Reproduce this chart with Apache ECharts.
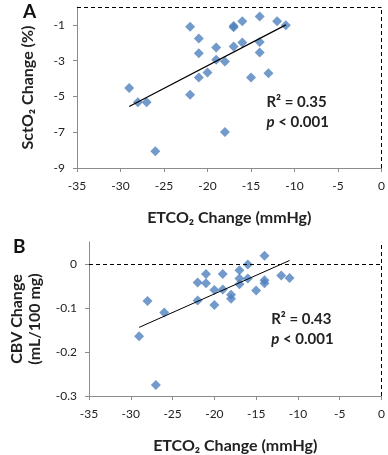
<!DOCTYPE html>
<html>
<head>
<meta charset="utf-8">
<script src="https://cdn.jsdelivr.net/npm/echarts@6/dist/echarts.min.js"></script>
<style>
  html, body { margin: 0; padding: 0; background: #fff; }
  #chart { width: 388px; height: 455px; }
</style>
</head>
<body>
<div id="chart"></div>
<script>
// panel A: ETCO2 change vs SctO2 change
var etco2A = [-29, -28, -27, -26, -22, -22, -21, -21, -21, -20, -19, -19, -18, -18, -17, -17, -17, -16, -16, -15, -14, -14, -14, -13, -12, -11]
var sctO2 = [-4.53, -5.32, -5.32, -8.07, -1.11, -4.91, -1.76, -2.58, -3.94, -3.66, -2.27, -2.95, -3.05, -6.99, -1.06, -1.13, -2.21, -0.80, -1.99, -3.94, -0.53, -1.95, -2.54, -3.70, -0.80, -1.02]
var trendA = [[-29, -5.56], [-11, -1.0]]

// panel B: ETCO2 change vs CBV change
var etco2B = [-29, -28, -27, -26, -22, -22, -21, -21, -20, -20, -19, -19, -18, -18, -17, -17, -17, -16, -16, -15, -14, -14, -14, -12, -11]
var cbv = [-0.164, -0.084, -0.275, -0.110, -0.042, -0.083, -0.023, -0.044, -0.059, -0.093, -0.023, -0.058, -0.070, -0.079, -0.014, -0.033, -0.046, -0.001, -0.033, -0.060, 0.019, -0.037, -0.044, -0.026, -0.032]
var trendB = [[-29, -0.144], [-11, 0.008]]

var xTicks = [-35, -30, -25, -20, -15, -10, -5, 0]
var statsA = ['0.35', '0.001']
var statsB = ['0.43', '0.001']

var font = 'Lato, "Open Sans", sans-serif'
var blue = '#4f81bd'

function zip (xs, ys) {
  return xs.map(function (x, i) { return [x, ys[i]] })
}

function xAxisOf (idx) {
  return {
    gridIndex: idx,
    type: 'value',
    min: xTicks[0],
    max: xTicks[xTicks.length - 1],
    interval: 5,
    axisLine: { show: true, onZero: false, lineStyle: { color: '#8c8c8c', width: 1 } },
    axisTick: { show: true, length: 4, lineStyle: { color: '#8c8c8c' } },
    axisLabel: { color: '#222', fontSize: 12, fontFamily: font, margin: 12 },
    splitLine: { show: false },
    name: 'ETCO₂ Change (mmHg)',
    nameLocation: 'middle',
    nameGap: 42,
    nameTextStyle: { color: '#222', fontSize: 16, fontWeight: 'bold', fontFamily: font }
  }
}

function yAxisOf (idx, min, max, interval, name, gap) {
  return {
    gridIndex: idx,
    type: 'value',
    min: min,
    max: max,
    interval: interval,
    axisLine: { show: true, onZero: false, lineStyle: { color: '#8c8c8c', width: 1 } },
    axisTick: { show: true, length: 4, lineStyle: { color: '#8c8c8c' } },
    axisLabel: { color: '#222', fontSize: 12, fontFamily: font, margin: 12, showMaxLabel: false },
    splitLine: { show: false },
    name: name,
    nameLocation: 'middle',
    nameGap: gap,
    nameTextStyle: { color: '#222', fontSize: 16, fontWeight: 'bold', fontFamily: font, lineHeight: 18 }
  }
}

function refLines () {
  return {
    silent: true,
    symbol: 'none',
    label: { show: false },
    lineStyle: { color: '#000', type: [4, 3], width: 1 },
    data: [{ yAxis: 0 }, { xAxis: 0 }]
  }
}

function statText (stats) {
  return '{b|R² = ' + stats[0] + '}\n{i|p}{b| < ' + stats[1] + '}'
}

var richStats = {
  b: { fontSize: 15, fontWeight: 'bold', fontFamily: font, color: '#222', lineHeight: 20 },
  i: { fontSize: 15, fontWeight: 'bold', fontStyle: 'italic', fontFamily: font, color: '#222', lineHeight: 20 }
}

var myChart = echarts.init(document.getElementById('chart'))
var option = {
  animation: false,
  grid: [
    { left: 77, right: 5, top: 7, height: 161 },
    { left: 77, right: 5, top: 242, height: 164 }
  ],
  xAxis: [xAxisOf(0), xAxisOf(1)],
  yAxis: [
    yAxisOf(0, -9, 0, 2, 'SctO₂ Change (%)', 40),
    yAxisOf(1, -0.3, 0.05, 0.1, 'CBV Change\n(mL/100 mg)', 45)
  ],
  graphic: [
    { type: 'text', left: 23, top: 2, style: { text: 'A', font: 'bold 19px ' + font, fill: '#111' } },
    { type: 'text', left: 13, top: 237, style: { text: 'B', font: 'bold 19px ' + font, fill: '#111' } }
  ],
  series: [
    {
      type: 'scatter',
      xAxisIndex: 0,
      yAxisIndex: 0,
      symbol: 'diamond',
      symbolSize: 10,
      itemStyle: { color: blue },
      data: zip(etco2A, sctO2),
      markLine: refLines()
    },
    {
      type: 'line',
      xAxisIndex: 0,
      yAxisIndex: 0,
      showSymbol: false,
      lineStyle: { color: '#000', width: 1.2 },
      data: trendA,
      markPoint: {
        symbol: 'rect',
        symbolSize: 0,
        label: { show: true, position: 'right', formatter: statText(statsA), rich: richStats, align: 'left' },
        data: [{ coord: [-13.8, -5.9] }]
      }
    },
    {
      type: 'scatter',
      xAxisIndex: 1,
      yAxisIndex: 1,
      symbol: 'diamond',
      symbolSize: 10,
      itemStyle: { color: blue },
      data: zip(etco2B, cbv),
      markLine: refLines()
    },
    {
      type: 'line',
      xAxisIndex: 1,
      yAxisIndex: 1,
      showSymbol: false,
      lineStyle: { color: '#000', width: 1 },
      data: trendB,
      markPoint: {
        symbol: 'rect',
        symbolSize: 0,
        label: { show: true, position: 'right', formatter: statText(statsB), rich: richStats, align: 'left' },
        data: [{ coord: [-13.8, -0.147] }]
      }
    }
  ]
}
myChart.setOption(option, true)
</script>
</body>
</html>
